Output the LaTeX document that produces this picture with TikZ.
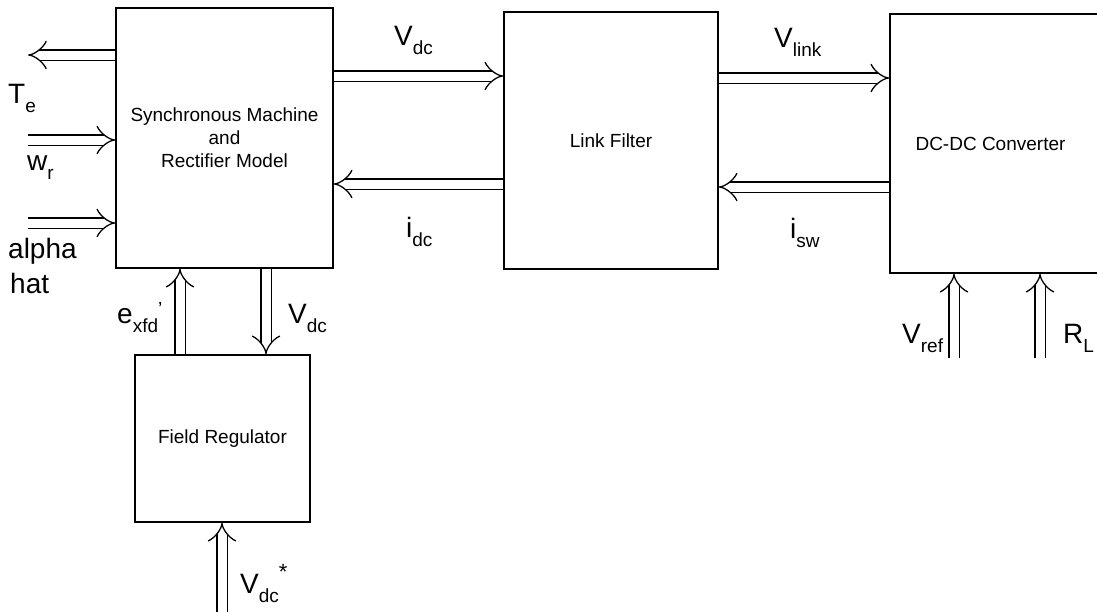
\documentclass[tikz,border=0pt]{standalone}
\usepackage{fontspec}
\setmainfont{Liberation Sans}
\usetikzlibrary{arrows.meta}
\newcommand{\sbs}[1]{\raisebox{-9pt}{\fontsize{19}{19}\selectfont #1}}
\tikzset{
  blk/.style={draw, line width=1.4pt, inner sep=0pt, align=center,
              font=\fontsize{19}{23}\selectfont},
  arr/.style={double, double distance=9pt, line width=1.3pt, -{Implies}},
  lbl/.style={inner sep=0pt, anchor=base west, font=\fontsize{28}{30}\selectfont}
}
\begin{document}
\begin{tikzpicture}[x=1pt,y=-1pt]
\useasboundingbox (0,0) rectangle (1097,611);
% blocks
\node[blk, minimum width=217pt, minimum height=260pt] (sm) at (224.5,138)
  {Synchronous Machine\\and\\Rectifier Model};
\node[blk, minimum width=214pt, minimum height=257pt] (lf) at (611,140.5) {Link Filter};
\node[blk, minimum width=212pt, minimum height=259pt] (dc) at (996,143.5) {\hspace*{-1pt}DC-DC Converter\hspace*{10pt}};
\node[blk, minimum width=175pt, minimum height=167pt] (fr) at (222.5,438.5) {Field Regulator};
% helper coordinates
\coordinate (te) at (28,55);
\coordinate (wr) at (28,140);
\coordinate (al) at (28,223);
\coordinate (ex) at (180,300);
\coordinate (vd) at (266,300);
\coordinate (vs) at (222,614);
\coordinate (vdc) at (420,76);
\coordinate (idc) at (420,184);
\coordinate (vl) at (800,78);
\coordinate (isw) at (800,187);
\coordinate (vr) at (954,358);
\coordinate (rl) at (1040,358);
% connectors
\draw[arr] (sm.west |- te) -- (te);
\draw[arr] (wr) -- (sm.west |- wr);
\draw[arr] (al) -- (sm.west |- al);
\draw[arr] (fr.north -| ex) -- (sm.south -| ex);
\draw[arr] (sm.south -| vd) -- (fr.north -| vd);
\draw[arr] (vs) -- (fr.south -| vs);
\draw[arr] (sm.east |- vdc) -- (lf.west |- vdc);
\draw[arr] (lf.west |- idc) -- (sm.east |- idc);
\draw[arr] (lf.east |- vl) -- (dc.west |- vl);
\draw[arr] (dc.west |- isw) -- (lf.east |- isw);
\draw[arr] (vr) -- (dc.south -| vr);
\draw[arr] (rl) -- (dc.south -| rl);
% labels
\node[lbl] (lte) at (8,103) {T\sbs{e}};
\node[lbl] (lwr) at (27,170) {w\sbs{r}};
\node[lbl] (lal) at (8,258) {alpha};
\node[lbl] (lha) at (10,293) {hat};
\node[lbl] (lex) at (117,323) {e\sbs{xfd}\raisebox{8pt}{\fontsize{19}{19}\selectfont '}};
\node[lbl] (lvd) at (288,323) {V\sbs{dc}};
\node[lbl] (lvs) at (240,593) {V\sbs{dc}\raisebox{14pt}{\fontsize{22}{22}\selectfont *}};
\node[lbl] (lvdc) at (394,45) {V\sbs{dc}};
\node[lbl] (lidc) at (406,237) {i\sbs{dc}};
\node[lbl] (lvl) at (774,47) {V\sbs{link}};
\node[lbl] (lisw) at (790,238) {i\sbs{sw}};
\node[lbl] (lvr) at (902,343) {V\sbs{ref}};
\node[lbl] (lrl) at (1063,343) {R\sbs{L}};
\end{tikzpicture}
\end{document}
